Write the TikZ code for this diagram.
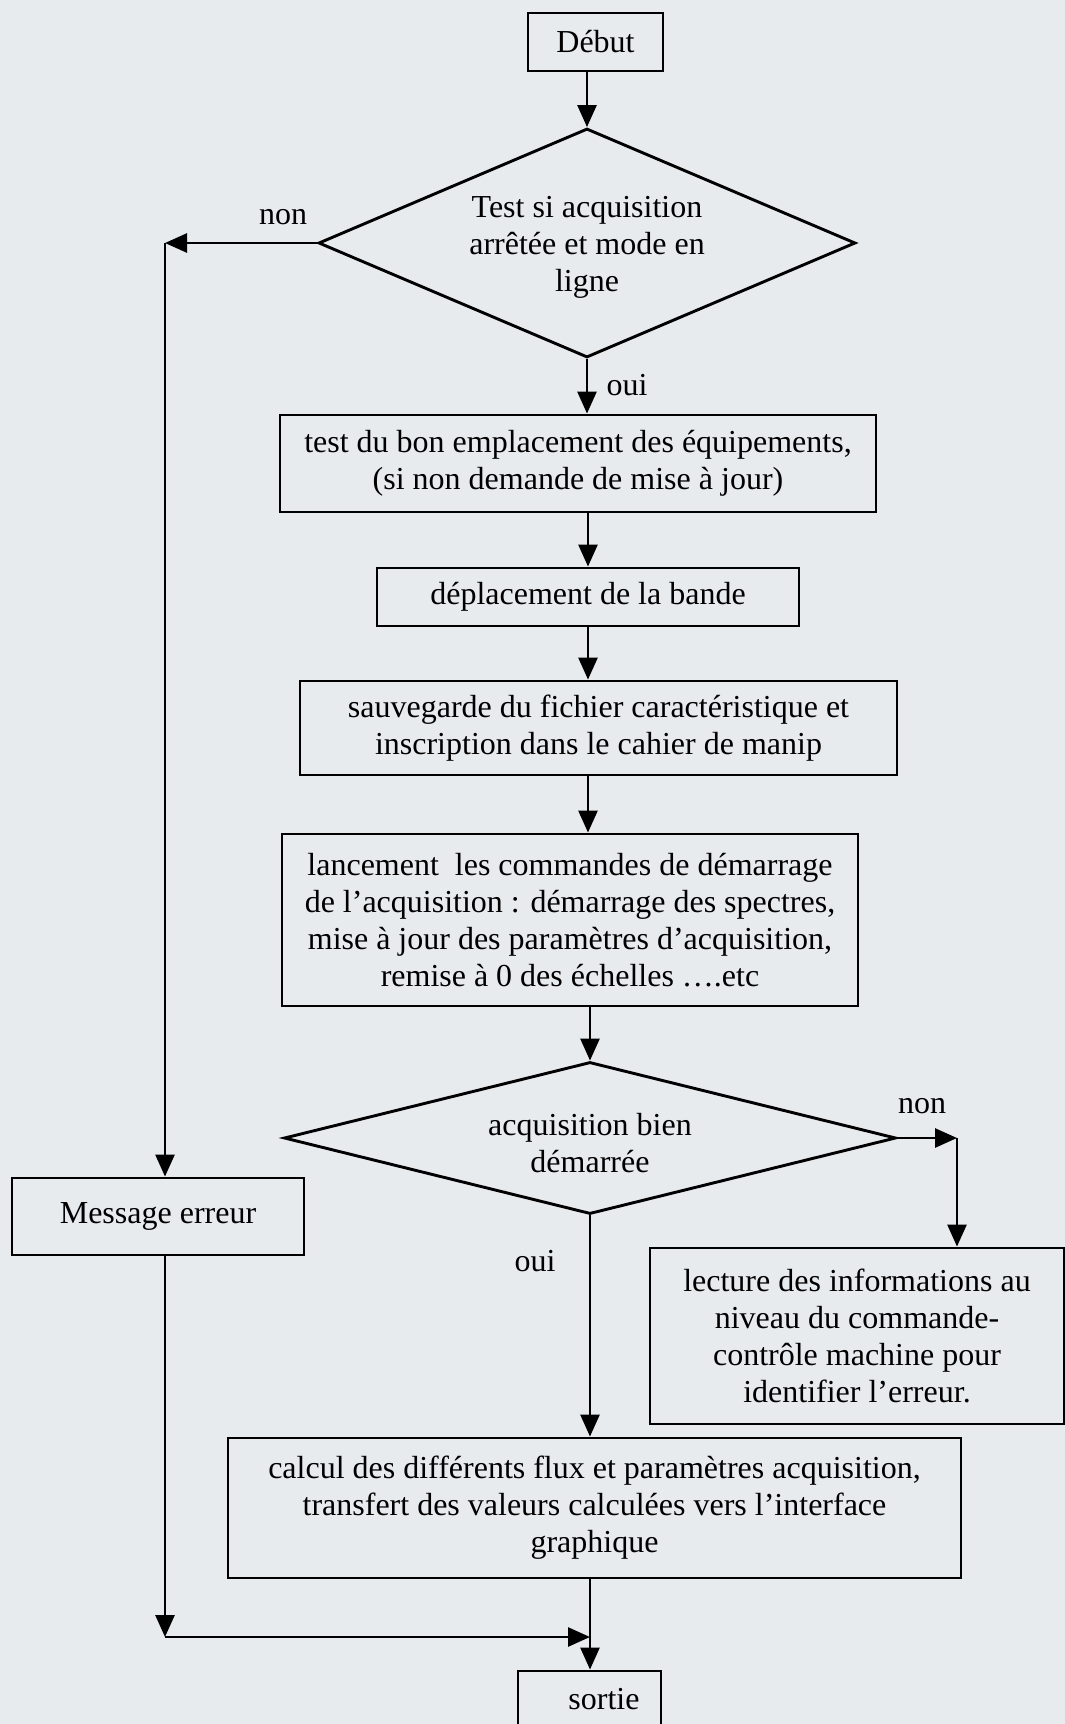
\documentclass[tikz,border=0pt]{standalone}
\usepackage{fontspec}
\setmainfont{Liberation Serif}
\usetikzlibrary{arrows.meta,shapes.geometric}
\definecolor{paper}{RGB}{231,235,238}
\begin{document}
\begin{tikzpicture}[x=1pt,y=-1pt,
  every node/.style={font=\fontsize{32}{37}\selectfont},
  box/.style={draw,line width=2.9pt,rectangle,inner sep=0pt,align=center},
  dia/.style={draw,line width=2.9pt,diamond,inner sep=0pt},
  txt/.style={align=center,inner sep=0pt},
  arr/.style={line width=2.7pt,-{Triangle[length=22pt,width=19pt]}}
]
\fill[paper] (0,0) rectangle (1065,1724);
\useasboundingbox (0,0) rectangle (1065,1724);

\node[box,minimum width=135pt,minimum height=58pt] (debut) at (595.5,42) {Début};
\node[dia,minimum width=537pt,minimum height=229pt] (d1) at (587,243) {};
\node[txt] (d1t) at (587,247) {Test si acquisition\\arrêtée et mode en\\ligne};
\node[box,minimum width=596pt,minimum height=97pt] (b2) at (578,463.5) {test du bon emplacement des équipements,\\(si non demande de mise à jour)};
\node[box,minimum width=422pt,minimum height=58pt] (b3) at (588,597) {déplacement de la bande};
\node[box,minimum width=597pt,minimum height=94pt] (b4) at (598.5,728) {sauvegarde du fichier caractéristique et\\inscription dans le cahier de manip};
\node[box,minimum width=576pt,minimum height=172pt] (b5) at (570,920) {lancement~~les commandes de démarrage\\de l’acquisition : démarrage des spectres,\\mise à jour des paramètres d’acquisition,\\remise à 0 des échelles ….etc};
\node[dia,minimum width=612pt,minimum height=152pt] (d2) at (590,1138) {};
\node[txt] (d2t) at (590,1143) {acquisition bien\\démarrée};
\node[box,minimum width=292pt,minimum height=77pt] (msg) at (158,1216.5) {Message erreur};
\node[box,minimum width=414pt,minimum height=176pt] (lect) at (857,1336) {lecture des informations au\\niveau du commande-\\contrôle machine pour\\identifier l’erreur.};
\node[box,minimum width=733pt,minimum height=140pt] (calc) at (594.5,1508) {calcul des différents flux et paramètres acquisition,\\transfert des valeurs calculées vers l’interface\\graphique};
\node[box,minimum width=143pt,minimum height=58pt] (sortie) at (589.5,1700) {};
\node[txt] (sortiet) at (604,1699) {sortie};

\node[txt] (non1) at (283,217) {non};
\node[txt] (oui1) at (627,385) {oui};
\node[txt] (non2) at (922,1106) {non};
\node[txt] (oui2) at (535,1261) {oui};

\coordinate (c1) at (165,243);
\coordinate (c2) at (957,1138);
\coordinate (c3) at (165,1637);
\coordinate (c4) at (590,1637);

\draw[arr] (d1.north |- debut.south) -- (d1.north);
\draw[arr] (d1.south) -- (d1.south |- b2.north);
\draw[arr] (b3.north |- b2.south) -- (b3.north);
\draw[arr] (b3.south) -- (b3.south |- b4.north);
\draw[arr] (b3.south |- b4.south) -- (b3.south |- b5.north);
\draw[arr] (d2.north |- b5.south) -- (d2.north);
\draw[arr] (d2.south) -- (d2.south |- calc.north);
\draw[arr] (d2.east) -- (c2);
\draw[arr] (c2) -- (c2 |- lect.north);
\draw[arr] (d1.west) -- (c1);
\draw[arr] (c1) -- (c1 |- msg.north);
\draw[arr] (c1 |- msg.south) -- (c3);
\draw[arr] (c3) -- (c4);
\draw[arr] (c4 |- calc.south) -- (c4 |- sortie.north);
\end{tikzpicture}
\end{document}
